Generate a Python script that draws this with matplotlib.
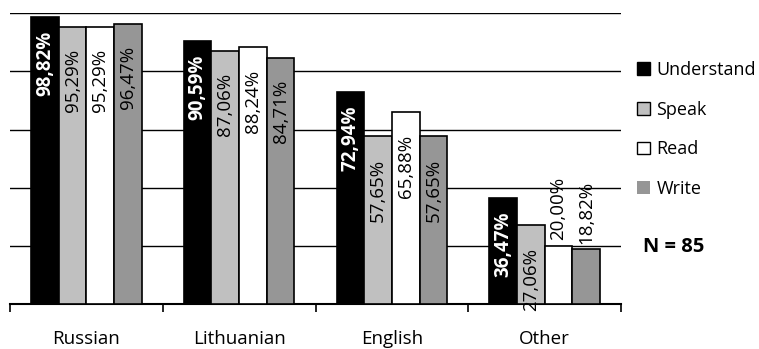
import numpy as np
import matplotlib.pyplot as plt
from matplotlib.patches import Patch

plt.rcParams['font.family'] = ['Open Sans', 'DejaVu Sans']

languages = ["Russian", "Lithuanian", "English", "Other"]
skills = ["Understand", "Speak", "Read", "Write"]
understand = [98.82, 90.59, 72.94, 36.47]
speak = [95.29, 87.06, 57.65, 27.06]
read = [95.29, 88.24, 65.88, 20.00]
write = [96.47, 84.71, 57.65, 18.82]
sample_size = 85

colors = ["#000000", "#c0c0c0", "#ffffff", "#969696"]

W, H = 759, 349
fig = plt.figure(figsize=(W / 100, H / 100), dpi=100)
ax = fig.add_axes([10 / W, 45 / H, 611 / W, 290.7 / H])

x = np.arange(len(languages))
w = 0.181
series = [understand, speak, read, write]
for k, vals in enumerate(series):
    pos = x + (k - 1.5) * w
    ax.bar(pos, vals, width=w, color=colors[k], edgecolor="black",
           linewidth=1.2, zorder=3)
    for px, v in zip(pos, vals):
        txt = f"{v:.2f}%".replace(".", ",")
        if k == 0:
            ax.annotate(txt, (px, v), xytext=(0, -10), textcoords="offset points",
                        rotation=90, ha="center", va="top", color="white",
                        fontsize=13.5, fontweight="bold", zorder=4)
        elif v < 25:
            ax.annotate(txt, (px, v), xytext=(0, 4), textcoords="offset points",
                        rotation=90, ha="center", va="bottom", color="black",
                        fontsize=13.5, zorder=4)
        else:
            ax.annotate(txt, (px, v), xytext=(0, -16), textcoords="offset points",
                        rotation=90, ha="center", va="top", color="black",
                        fontsize=13.5, zorder=4)

ax.set_xlim(-0.5, len(languages) - 0.5)
ax.set_ylim(0, 100)
for g in [20, 40, 60, 80, 100]:
    ax.axhline(g, color="black", linewidth=1, zorder=1)

for s in ["left", "right", "top"]:
    ax.spines[s].set_visible(False)
ax.spines["bottom"].set_linewidth(1.5)
ax.set_yticks([])

ax.set_xticks(x)
ax.set_xticklabels(languages, fontsize=13.5)
ax.tick_params(axis="x", which="major", length=0, pad=19)
ax.set_xticks(np.arange(len(languages) + 1) - 0.5, minor=True)
ax.tick_params(axis="x", which="minor", length=6, width=1.2, direction="out")

handles = [Patch(facecolor="#000000", edgecolor="black", linewidth=1),
           Patch(facecolor="#c0c0c0", edgecolor="black", linewidth=1),
           Patch(facecolor="#ffffff", edgecolor="black", linewidth=1),
           Patch(facecolor="#969696", edgecolor="none")]
fig.legend(handles, skills, loc="upper left",
           bbox_to_anchor=(637 / W, 1 - 61 / H), frameon=False,
           fontsize=13, handlelength=0.72, handleheight=0.72,
           handletextpad=0.35, labelspacing=1.2, borderpad=0,
           borderaxespad=0)

fig.text(643 / W, 1 - 247 / H, f"N = {sample_size}", fontsize=14.5,
         fontweight="bold", va="center", ha="left")

fig.savefig("out.png", dpi=100)
